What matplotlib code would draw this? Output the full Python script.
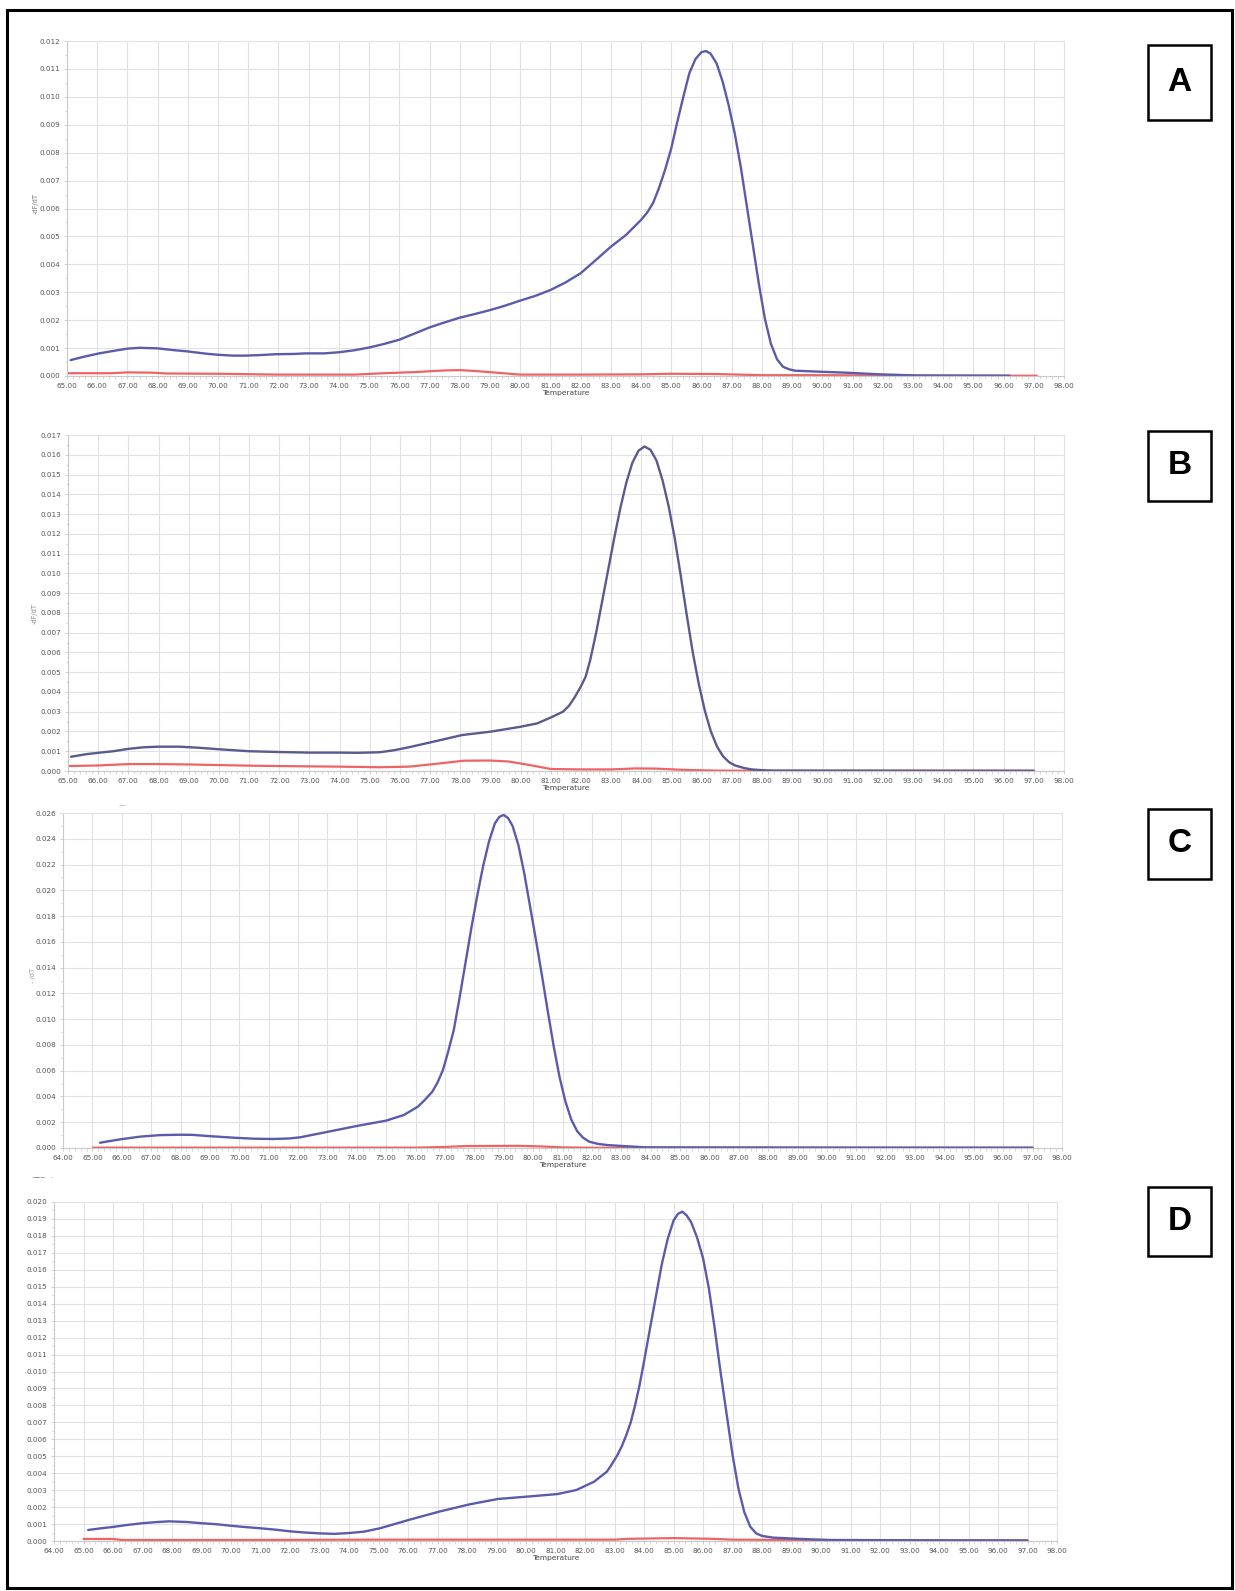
import numpy as np
import matplotlib
matplotlib.use("Agg")
import matplotlib.pyplot as plt
from matplotlib.patches import Rectangle
from matplotlib.ticker import MultipleLocator, FormatStrFormatter

# ── Data (temperature in °C, -dF/dT in units of 1e-3) ─────────────────────────
A_BLUE_T = [65.12, 65.6, 66.06, 66.6, 67.0, 67.4, 68.0, 68.5, 69.0, 69.6, 70.0, 70.5,
            70.9, 71.4, 71.9, 72.5, 72.9, 73.5, 74.0, 74.5, 75.0, 75.5, 76.0, 76.5,
            77.0, 77.5, 78.0, 78.5, 79.0, 79.5, 80.0, 80.5, 81.0, 81.5, 82.0, 82.5,
            83.0, 83.5, 84.0, 84.2, 84.4, 84.6, 84.8, 85.0, 85.2, 85.4, 85.6, 85.8,
            86.0, 86.15, 86.3, 86.5, 86.7, 86.9, 87.1, 87.3, 87.5, 87.7, 87.9, 88.1,
            88.3, 88.5, 88.7, 88.9, 89.1, 90.0, 90.75, 91.9, 93.1, 96.2]
A_BLUE_V = [0.57, 0.70, 0.81, 0.91, 0.98, 1.01, 0.99, 0.93, 0.88, 0.80, 0.76, 0.73,
            0.73, 0.75, 0.78, 0.79, 0.81, 0.81, 0.85, 0.92, 1.02, 1.15, 1.30, 1.52,
            1.74, 1.92, 2.09, 2.22, 2.36, 2.52, 2.70, 2.87, 3.08, 3.35, 3.68, 4.15,
            4.63, 5.05, 5.59, 5.85, 6.2, 6.75, 7.4, 8.15, 9.1, 10.0, 10.85, 11.35,
            11.6, 11.64, 11.55, 11.2, 10.55, 9.7, 8.7, 7.5, 6.1, 4.7, 3.3, 2.05,
            1.15, 0.6, 0.33, 0.24, 0.19, 0.15, 0.12, 0.06, 0.02, 0.01]
A_RED_T = [65.05, 66.5, 67.0, 67.8, 68.3, 70.0, 72.0, 74.5, 75.5, 76.5, 77.5, 78.0,
           78.5, 79.2, 80.0, 81.0, 82.0, 84.0, 85.0, 86.5, 88.0, 90.0, 93.0, 97.1]
A_RED_V = [0.10, 0.10, 0.13, 0.12, 0.09, 0.08, 0.05, 0.05, 0.10, 0.14, 0.20, 0.21,
           0.18, 0.12, 0.05, 0.05, 0.05, 0.06, 0.08, 0.07, 0.03, 0.03, 0.01, 0.01]

B_BLUE_T = [65.1, 65.6, 66.0, 66.5, 67.0, 67.5, 68.0, 68.7, 69.3, 70.0, 70.5, 71.0,
            72.0, 73.0, 74.0, 74.6, 75.34, 75.8, 76.29, 77.1, 78.06, 79.0, 80.0, 80.55,
            81.0, 81.4, 81.6, 81.8, 82.0, 82.15, 82.3, 82.5, 82.7, 82.9, 83.1, 83.3,
            83.5, 83.7, 83.9, 84.1, 84.3, 84.5, 84.7, 84.9, 85.1, 85.3, 85.5, 85.7,
            85.9, 86.1, 86.3, 86.5, 86.7, 86.9, 87.1, 87.4, 87.65, 88.0, 88.36, 97.0]
B_BLUE_V = [0.72, 0.85, 0.92, 1.0, 1.12, 1.20, 1.23, 1.23, 1.18, 1.10, 1.05, 1.0,
            0.96, 0.93, 0.93, 0.92, 0.95, 1.05, 1.20, 1.48, 1.82, 1.99, 2.24, 2.41,
            2.71, 3.0, 3.3, 3.76, 4.3, 4.77, 5.6, 7.0, 8.6, 10.2, 11.8, 13.3,
            14.6, 15.6, 16.2, 16.42, 16.25, 15.7, 14.7, 13.4, 11.8, 9.9, 7.9, 6.0,
            4.4, 3.05, 2.0, 1.25, 0.75, 0.45, 0.28, 0.15, 0.08, 0.04, 0.02, 0.01]
B_RED_T = [65.05, 66.0, 67.0, 68.0, 69.0, 70.0, 71.0, 72.0, 74.0, 75.34, 76.3, 77.3,
           78.1, 79.0, 79.6, 80.3, 81.0, 82.0, 83.0, 83.8, 84.5, 85.5, 86.5, 88.0, 97.0]
B_RED_V = [0.25, 0.28, 0.35, 0.35, 0.33, 0.30, 0.27, 0.25, 0.22, 0.19, 0.22, 0.38,
           0.52, 0.53, 0.48, 0.30, 0.10, 0.08, 0.08, 0.13, 0.12, 0.05, 0.02, 0.01, 0.01]

C_BLUE_T = [65.26, 65.94, 66.62, 67.3, 68.0, 68.4, 69.0, 69.8, 70.5, 71.16, 71.7, 72.07,
            73.04, 74.0, 74.99, 75.6, 76.08, 76.3, 76.57, 76.75, 76.93, 77.1, 77.3, 77.5,
            77.7, 77.9, 78.1, 78.3, 78.5, 78.7, 78.85, 79.0, 79.15, 79.3, 79.5, 79.7,
            79.9, 80.1, 80.3, 80.5, 80.7, 80.9, 81.1, 81.3, 81.5, 81.7, 81.91, 82.2,
            82.52, 83.0, 83.85, 90.0, 97.0]
C_BLUE_V = [0.41, 0.67, 0.88, 1.00, 1.03, 1.02, 0.92, 0.80, 0.72, 0.70, 0.74, 0.83,
            1.27, 1.71, 2.12, 2.56, 3.21, 3.7, 4.37, 5.1, 6.05, 7.4, 9.16, 11.7,
            14.4, 17.1, 19.6, 21.9, 23.8, 25.2, 25.7, 25.85, 25.6, 25.0, 23.5, 21.3,
            18.7, 16.1, 13.4, 10.6, 7.9, 5.5, 3.6, 2.2, 1.3, 0.8, 0.49, 0.32,
            0.23, 0.16, 0.05, 0.03, 0.02]
C_RED_T = [65.02, 70.0, 76.0, 77.0, 77.7, 79.5, 80.3, 81.0, 82.0, 97.0]
C_RED_V = [0.03, 0.03, 0.03, 0.08, 0.15, 0.17, 0.12, 0.05, 0.02, 0.02]

D_BLUE_T = [65.16, 65.6, 66.0, 66.5, 67.0, 67.5, 67.9, 68.5, 69.0, 69.5, 70.0, 70.5,
            71.0, 71.5, 72.0, 72.5, 73.0, 73.5, 74.0, 74.5, 75.05, 76.02, 77.05, 78.08,
            79.05, 80.05, 81.07, 81.71, 82.31, 82.74, 82.9, 83.1, 83.25, 83.4, 83.55, 83.7,
            83.85, 84.0, 84.2, 84.4, 84.6, 84.8, 85.0, 85.15, 85.3, 85.45, 85.6, 85.8,
            86.0, 86.2, 86.4, 86.6, 86.8, 87.0, 87.2, 87.4, 87.6, 87.8, 88.0, 88.37,
            89.33, 90.3, 97.0]
D_BLUE_V = [0.65, 0.75, 0.83, 0.95, 1.05, 1.12, 1.16, 1.12, 1.05, 0.99, 0.90, 0.82,
            0.75, 0.67, 0.57, 0.50, 0.45, 0.42, 0.47, 0.55, 0.75, 1.24, 1.73, 2.16,
            2.48, 2.62, 2.77, 3.01, 3.5, 4.09, 4.5, 5.07, 5.6, 6.25, 7.0, 8.02,
            9.2, 10.58, 12.5, 14.4, 16.3, 17.8, 18.9, 19.3, 19.43, 19.2, 18.8, 17.9,
            16.7, 14.9, 12.5, 9.9, 7.5, 5.1, 3.1, 1.7, 0.85, 0.45, 0.3, 0.2,
            0.12, 0.06, 0.02]
D_RED_T = [65.0, 66.0, 66.3, 70.0, 75.0, 83.0, 83.5, 85.0, 86.3, 87.0, 90.0, 97.0]
D_RED_V = [0.12, 0.12, 0.06, 0.06, 0.08, 0.08, 0.13, 0.17, 0.13, 0.08, 0.05, 0.05]

# ── Style ─────────────────────────────────────────────────────────────────────
W, H = 1235, 1591
BLUE = "#5b5bab"
BLUE_B = "#5a5a8e"
RED = "#ee6464"
GRID = "#e1e1e8"
SPINE = "#c9c9c9"
TICK_TXT = "#555555"

plt.rcParams.update({
    "font.family": "DejaVu Sans",
    "font.size": 5.2,
})

fig = plt.figure(figsize=(W / 100, H / 100), dpi=100)


def px_axes(left, top, right, bottom):
    return fig.add_axes([left / W, 1 - bottom / H, (right - left) / W, (bottom - top) / H])


def style_axes(ax, xmin, ymax, ystep, yminor):
    ax.set_xlim(xmin, 98)
    ax.set_ylim(0, ymax)
    ax.xaxis.set_major_locator(MultipleLocator(1))
    ax.xaxis.set_minor_locator(MultipleLocator(0.2))
    ax.yaxis.set_major_locator(MultipleLocator(ystep))
    ax.yaxis.set_minor_locator(MultipleLocator(yminor))
    ax.xaxis.set_major_formatter(FormatStrFormatter("%.2f"))
    ax.yaxis.set_major_formatter(FormatStrFormatter("%.3f"))
    ax.grid(True, which="major", color=GRID, linewidth=0.8)
    ax.set_axisbelow(True)
    for s in ax.spines.values():
        s.set_color(SPINE)
        s.set_linewidth(0.8)
    ax.spines["top"].set_color(GRID)
    ax.spines["right"].set_color(GRID)
    ax.tick_params(which="major", length=2.5, width=0.6, color=SPINE,
                   labelcolor=TICK_TXT, labelsize=5.2, pad=2.2)
    ax.tick_params(which="minor", length=1.8, width=0.5, color=SPINE)
    ax.set_xlabel("Temperature", fontsize=5.4, color="#444444", labelpad=1.2)


panels = [
    # (box px, xmin, ymax, ystep, yminor, blue, red, blue colour)
    ((67, 41, 1064, 376), 65, 0.012, 0.001, 0.0005, (A_BLUE_T, A_BLUE_V), (A_RED_T, A_RED_V), BLUE),
    ((68, 435, 1064, 771), 65, 0.017, 0.001, 0.0005, (B_BLUE_T, B_BLUE_V), (B_RED_T, B_RED_V), BLUE_B),
    ((63, 813, 1062, 1148), 64, 0.026, 0.002, 0.001, (C_BLUE_T, C_BLUE_V), (C_RED_T, C_RED_V), BLUE),
    ((54, 1202, 1057, 1541), 64, 0.020, 0.001, 0.0005, (D_BLUE_T, D_BLUE_V), (D_RED_T, D_RED_V), BLUE),
]

for box, xmin, ymax, ystep, yminor, blue, red, bcol in panels:
    ax = px_axes(*box)
    style_axes(ax, xmin, ymax, ystep, yminor)
    ax.plot(red[0], np.array(red[1]) * 1e-3, color=RED, lw=1.6,
            solid_capstyle="round", solid_joinstyle="round")
    ax.plot(blue[0], np.array(blue[1]) * 1e-3, color=bcol, lw=1.7,
            solid_capstyle="round", solid_joinstyle="round")

# faint y-axis captions from the instrument software
fig.text(36 / W, 1 - 203 / H, "-dF/dT", rotation=90, fontsize=4.8, color="#777777",
         ha="center", va="center")
fig.text(35 / W, 1 - 614 / H, "-dF/dT", rotation=90, fontsize=4.8, color="#8a8a8a",
         ha="center", va="center")
fig.text(33 / W, 1 - 975 / H, "- /dT", rotation=90, fontsize=4.8, color="#9a9a9a",
         ha="center", va="center")
fig.text(26 / W, 1 - 1372 / H, "-", rotation=90, fontsize=4.8, color="#9a9a9a",
         ha="center", va="center")
fig.text(122 / W, 1 - 805 / H, "—", fontsize=5, color="#999999", ha="center", va="center")
fig.text(32 / W, 1 - 1181 / H, "\u203e\u203e\u203e  \u02d9", fontsize=6, color="#888888",
         ha="left", va="center")

# ── Panel letter boxes ────────────────────────────────────────────────────────
letter_boxes = [("A", 45, 120), ("B", 431, 501), ("C", 809, 879), ("D", 1187, 1256)]
for letter, top, bottom in letter_boxes:
    left, right = 1148, 1211
    fig.add_artist(Rectangle((left / W, 1 - bottom / H), (right - left) / W, (bottom - top) / H,
                             transform=fig.transFigure, fill=False, edgecolor="black", lw=1.8))
    fig.text((left + right) / 2 / W, 1 - (top + bottom) / 2 / H, letter,
             fontsize=24, fontweight="bold", family="Liberation Sans",
             ha="center", va="center", color="black")

# outer frame
fig.add_artist(Rectangle((7 / W, 1 - 1588 / H), (1232 - 7) / W, (1588 - 10) / H,
                         transform=fig.transFigure, fill=False, edgecolor="black", lw=2.2))

fig.savefig("out.png", dpi=100, facecolor="white")
